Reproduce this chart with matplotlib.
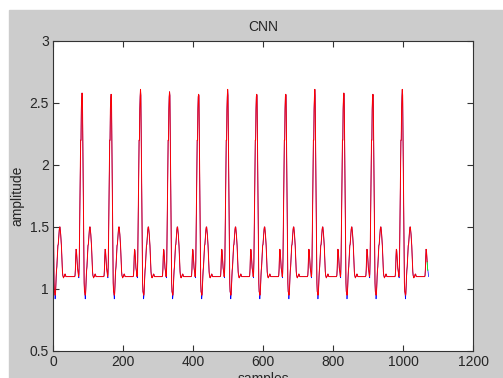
import numpy as np
import matplotlib
matplotlib.use("Agg")
import matplotlib.pyplot as plt

plt.rcParams['font.family'] = ['Liberation Sans', 'DejaVu Sans']
plt.rcParams['font.size'] = 10

# R-peak positions (samples) and heights
r_pos = [-3, 83, 166, 250, 333, 416, 499, 582, 665, 748, 831, 914, 998, 1083]
r_amp = [2.57, 2.58, 2.57, 2.61, 2.59, 2.57, 2.61, 2.57, 2.57, 2.61, 2.58, 2.57, 2.61, 2.57]

# one heart beat, sample offsets -24..58 around the R peak (original signal)
beat_off = list(range(-24, 59))
beat_orig = [1.10, 1.10, 1.10, 1.10, 1.11, 1.16, 1.26, 1.32, 1.31, 1.27,
             1.22, 1.17, 1.15, 1.13, 1.10, 1.09, 1.22, 1.45, 1.65, 1.90,
             2.20, 2.20, 2.45, 2.55, 2.57, 2.56, 2.20, 1.95, 1.65, 1.30,
             1.05, 0.98, 0.96, 0.92, 0.95, 1.02, 1.10, 1.15, 1.18, 1.24,
             1.30, 1.35, 1.36, 1.40, 1.44, 1.48, 1.50, 1.50, 1.47, 1.44,
             1.40, 1.35, 1.28, 1.20, 1.14, 1.11, 1.10, 1.09, 1.10, 1.10,
             1.11, 1.12, 1.12, 1.11, 1.10] + [1.10] * 18
# CNN output differs from the original only at the troughs
cnn_diff = {-9: 1.12, 8: 0.97, 9: 0.95, 10: 0.96}
beat_cnn = [cnn_diff.get(o, v) for o, v in zip(beat_off, beat_orig)]

start_orig = [0.67, 1.83]   # first two samples of the original trace
n_orig = 1074               # length of blue trace
n_cnn = 1070                # length of red trace
green_span = (1069, 1071)   # short green trace at the end
baseline = 1.10

blue = np.full(n_orig, baseline)
red = np.full(n_orig, baseline)
for r, a in zip(r_pos, r_amp):
    for k, off in enumerate(beat_off):
        i = r + off
        if 0 <= i < n_orig:
            blue[i] = a if off == 0 else beat_orig[k]
            red[i] = a if off == 0 else beat_cnn[k]
blue[:len(start_orig)] = start_orig
x = np.arange(n_orig)

fig = plt.figure(figsize=(5.03, 3.78), dpi=100, facecolor='white')
bg = plt.Rectangle((9 / 503, 0), 1, 1 - 10 / 378, transform=fig.transFigure,
                   color='#cccccc', zorder=-10)
fig.add_artist(bg)
ax = fig.add_axes([53 / 503, 27 / 378, 420 / 503, 310 / 378])
ax.set_facecolor('white')

ax.plot(x, blue, color='b', lw=0.5)
g0, g1 = green_span
ax.plot(x[g0:g1 + 1], blue[g0:g1 + 1], color='#00ff00', lw=0.6)
ax.plot(x[:n_cnn], red[:n_cnn], color='r', lw=0.7)

ax.set_xlim(0, 1200)
ax.set_ylim(0.5, 3)
ax.set_xticks(np.arange(0, 1201, 200))
ax.set_yticks([0.5, 1, 1.5, 2, 2.5, 3])
ax.set_yticklabels(['0.5', '1', '1.5', '2', '2.5', '3'])
ax.tick_params(direction='in', top=True, right=True, length=4, width=0.8,
               color='#333333', labelcolor='#262626', pad=3)
for s in ax.spines.values():
    s.set_color('#333333')
    s.set_linewidth(0.8)

ax.set_title('CNN', pad=7, color='#262626', fontsize=10)
ax.set_ylabel('amplitude', labelpad=3.5, color='#262626')
ax.set_xlabel('samples', labelpad=2, color='#262626')

fig.savefig('out.png', dpi=100)
